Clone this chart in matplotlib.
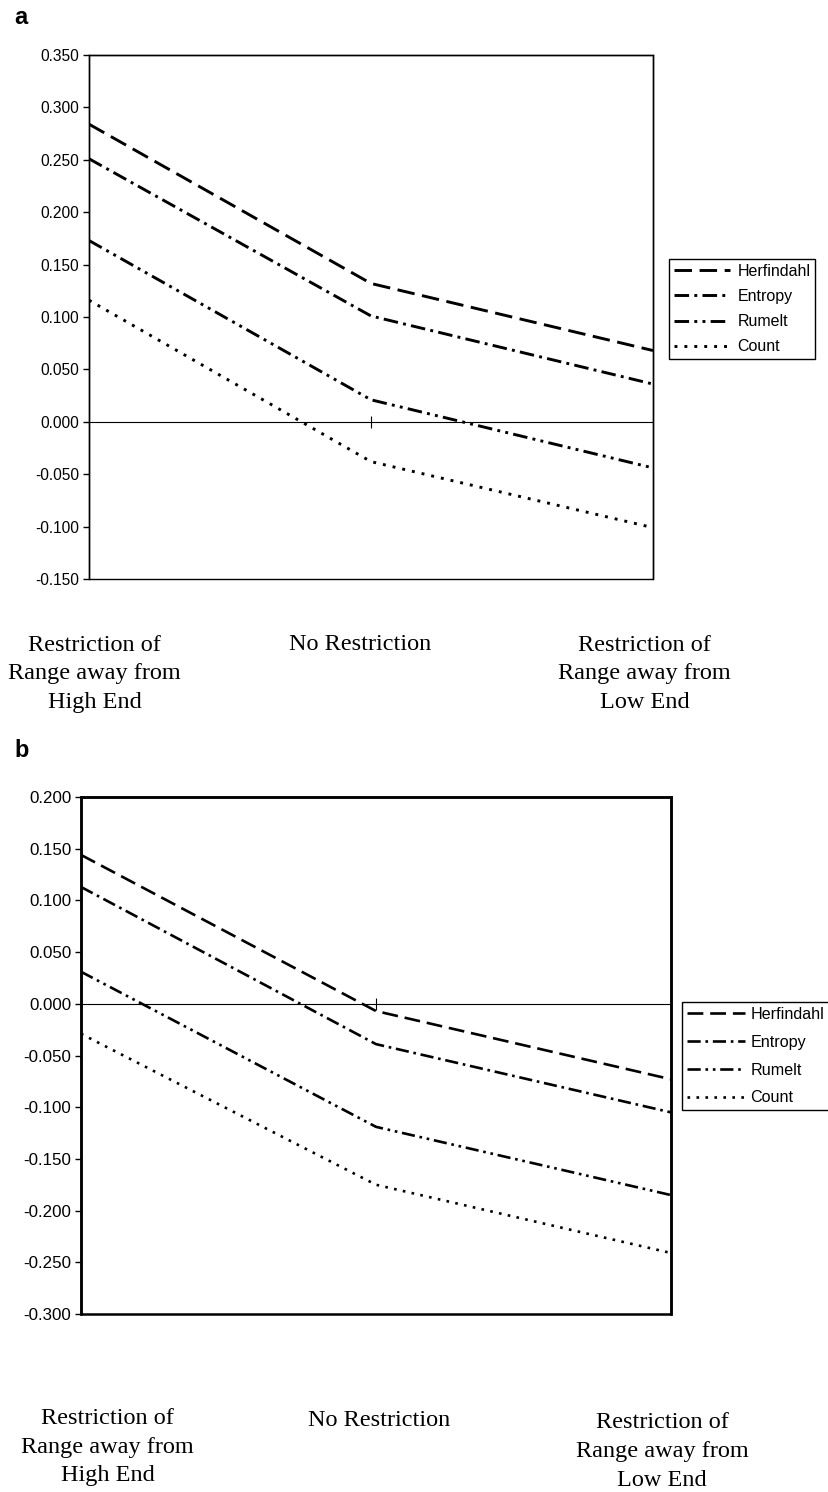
import matplotlib
matplotlib.use("Agg")
import matplotlib.pyplot as plt
from matplotlib.patches import Rectangle
from matplotlib.transforms import blended_transform_factory

# ---------------- data ----------------
categories = ["Restriction of\nRange away from\nHigh End",
              "No Restriction",
              "Restriction of\nRange away from\nLow End"]
series_names = ["Herfindahl", "Entropy", "Rumelt", "Count"]

# Panel a
a_herfindahl = [0.284, 0.132, 0.068]
a_entropy = [0.251, 0.101, 0.036]
a_rumelt = [0.173, 0.021, -0.044]
a_count = [0.116, -0.038, -0.101]
a_yticks = [-0.150, -0.100, -0.050, 0.000, 0.050, 0.100, 0.150, 0.200, 0.250, 0.300, 0.350]

# Panel b
b_herfindahl = [0.144, -0.007, -0.073]
b_entropy = [0.113, -0.039, -0.105]
b_rumelt = [0.031, -0.119, -0.185]
b_count = [-0.029, -0.175, -0.241]
b_yticks = [-0.300, -0.250, -0.200, -0.150, -0.100, -0.050, 0.000, 0.050, 0.100, 0.150, 0.200]

# ---------------- styles ----------------
dash_styles = {
    "Herfindahl": (0, (6.0, 2.6)),
    "Entropy": (0, (5.0, 1.8, 1.0, 1.8)),
    "Rumelt": (0, (5.0, 1.8, 1.0, 1.8, 1.0, 1.8)),
    "Count": (0, (1.0, 2.4)),
}

SANS = ["Liberation Sans", "DejaVu Sans"]
SERIF = ["Liberation Serif", "DejaVu Serif"]

W, H = 829, 1492
fig = plt.figure(figsize=(W / 100, H / 100), dpi=100)
fig.patch.set_facecolor("white")


def make_panel(rect, data, yticks, tick_fs, spine_lw, line_lw, letter, letter_xy,
               leg_anchor, leg_fs, leg_kw, cat_y, cat_dx, cat_ls):
    ax = fig.add_axes(rect)
    x = list(range(len(categories)))
    for name, vals in zip(series_names, data):
        ax.plot(x, vals, color="black", lw=line_lw, linestyle=dash_styles[name],
                label=name, solid_capstyle="butt", dash_capstyle="butt")
    ax.set_xlim(0, len(categories) - 1)
    ax.set_ylim(yticks[0], yticks[-1])
    ax.set_yticks(yticks)
    ax.set_yticklabels([f"{v:.3f}" for v in yticks], fontsize=tick_fs, family=SANS)
    ax.tick_params(axis="y", direction="out", length=4, width=1, pad=3)
    # category axis crossing at zero
    ax.spines["bottom"].set_position(("data", 0))
    ax.spines["bottom"].set_linewidth(0.8)
    ax.set_xticks([1])
    ax.set_xticklabels([""])
    ax.tick_params(axis="x", direction="inout", length=8, width=0.8)
    for s in ["top", "left", "right"]:
        ax.spines[s].set_linewidth(spine_lw)
    ax.add_patch(Rectangle((0, 0), 1, 1, transform=ax.transAxes, fill=False,
                           lw=spine_lw, edgecolor="black", clip_on=False, zorder=5))
    # category labels
    tr = blended_transform_factory(ax.transData, fig.transFigure)
    for i, lab in enumerate(categories):
        ax.text(i + cat_dx[i], cat_y[i], lab, transform=tr, ha="center", va="center",
                fontsize=17.5, family=SERIF, linespacing=cat_ls, multialignment="center")
    fig.text(letter_xy[0], letter_xy[1], letter, fontsize=17, fontweight="bold",
             family=SANS, ha="left", va="center")
    leg = ax.legend(loc="upper left", bbox_to_anchor=leg_anchor,
                    bbox_transform=fig.transFigure, prop={"family": SANS, "size": leg_fs},
                    frameon=True, fancybox=False, framealpha=1, edgecolor="black",
                    borderaxespad=0, **leg_kw)
    leg.get_frame().set_linewidth(1.0)
    return ax


def fx(px):
    return px / W


def fy(py):
    return 1 - py / H


# Panel a
make_panel(rect=[fx(89), fy(579), fx(653) - fx(89), fy(55) - fy(579)],
           data=[a_herfindahl, a_entropy, a_rumelt, a_count], yticks=a_yticks,
           tick_fs=11.2, spine_lw=1.0, line_lw=2.1, letter="a", letter_xy=(fx(14), fy(18)),
           leg_anchor=(fx(669), fy(259)), leg_fs=11.5,
           leg_kw=dict(handlelength=3.5, handletextpad=0.5, borderpad=0.3, labelspacing=0.64),
           cat_y=[fy(674), fy(645), fy(674)], cat_dx=[0.02, -0.04, -0.03], cat_ls=1.45)

# Panel b
make_panel(rect=[fx(81), fy(1314), fx(671) - fx(81), fy(797) - fy(1314)],
           data=[b_herfindahl, b_entropy, b_rumelt, b_count], yticks=b_yticks,
           tick_fs=12.2, spine_lw=1.8, line_lw=1.9, letter="b", letter_xy=(fx(14), fy(751)),
           leg_anchor=(fx(682), fy(1002)), leg_fs=11.6,
           leg_kw=dict(handlelength=3.6, handletextpad=0.35, borderpad=0.3, labelspacing=0.8),
           cat_y=[fy(1447), fy(1421), fy(1451)], cat_dx=[0.09, 0.01, -0.03], cat_ls=1.5)

fig.savefig("out.png", dpi=100, facecolor="white")
